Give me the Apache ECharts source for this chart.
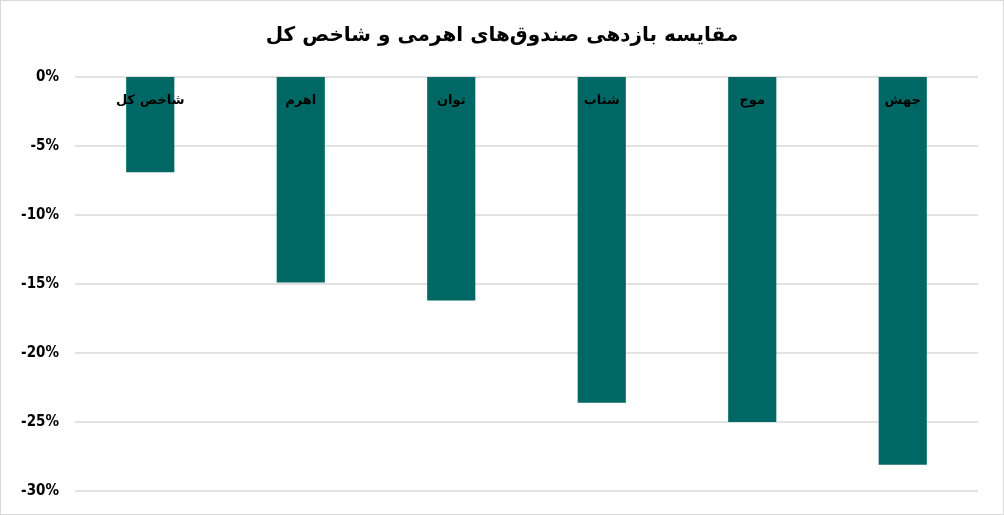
<!DOCTYPE html>
<html>
<head>
<meta charset="utf-8">
<script src="https://cdn.jsdelivr.net/npm/echarts@6/dist/echarts.min.js"></script>
<style>
    html, body { margin: 0; padding: 0; background: #fff; }
    #chart { width: 1004px; height: 515px; box-sizing: border-box; border: 1px solid #d9d9d9; }
</style>
</head>
<body>
<div id="chart"></div>
<script>
// صندوق‌ها
var funds = ['شاخص کل', 'اهرم', 'توان', 'شتاب', 'موج', 'جهش'];
// بازدهی (درصد)
var returns = [-6.9, -14.9, -16.2, -23.6, -25.0, -28.1];

var chart = echarts.init(document.getElementById('chart'));
var option = {
    animation: false,
    title: {
        text: 'مقایسه بازدهی صندوق‌های اهرمی و شاخص کل',
        left: 'center',
        top: 20,
        textStyle: {
            fontFamily: 'DejaVu Sans',
            fontWeight: 'bold',
            fontSize: 20,
            color: '#000'
        }
    },
    grid: {
        left: 74,
        right: 25,
        top: 76,
        bottom: 23,
        outerBoundsMode: 'none',
        containLabel: false
    },
    xAxis: {
        type: 'category',
        data: funds,
        position: 'top',
        z: 5,
        axisLine: { show: false },
        axisTick: { show: false },
        axisLabel: {
            inside: true,
            margin: 17,
            fontFamily: 'DejaVu Sans',
            fontWeight: 'bold',
            fontSize: 13,
            color: '#000'
        }
    },
    yAxis: {
        type: 'value',
        min: -30,
        max: 0,
        interval: 5,
        axisLine: { show: false },
        axisTick: { show: false },
        splitLine: {
            lineStyle: { color: '#d9d9d9', width: 1.5 }
        },
        axisLabel: {
            margin: 16,
            fontFamily: "'DejaVu Sans Condensed', 'Liberation Sans', sans-serif",
            fontWeight: 'bold',
            fontSize: 15,
            color: '#000',
            formatter: function (v) {
                return v + '%';
            }
        }
    },
    series: [{
        type: 'bar',
        data: returns,
        barWidth: '32%',
        itemStyle: { color: '#006864' }
    }]
};
chart.setOption(option);
</script>
</body>
</html>
